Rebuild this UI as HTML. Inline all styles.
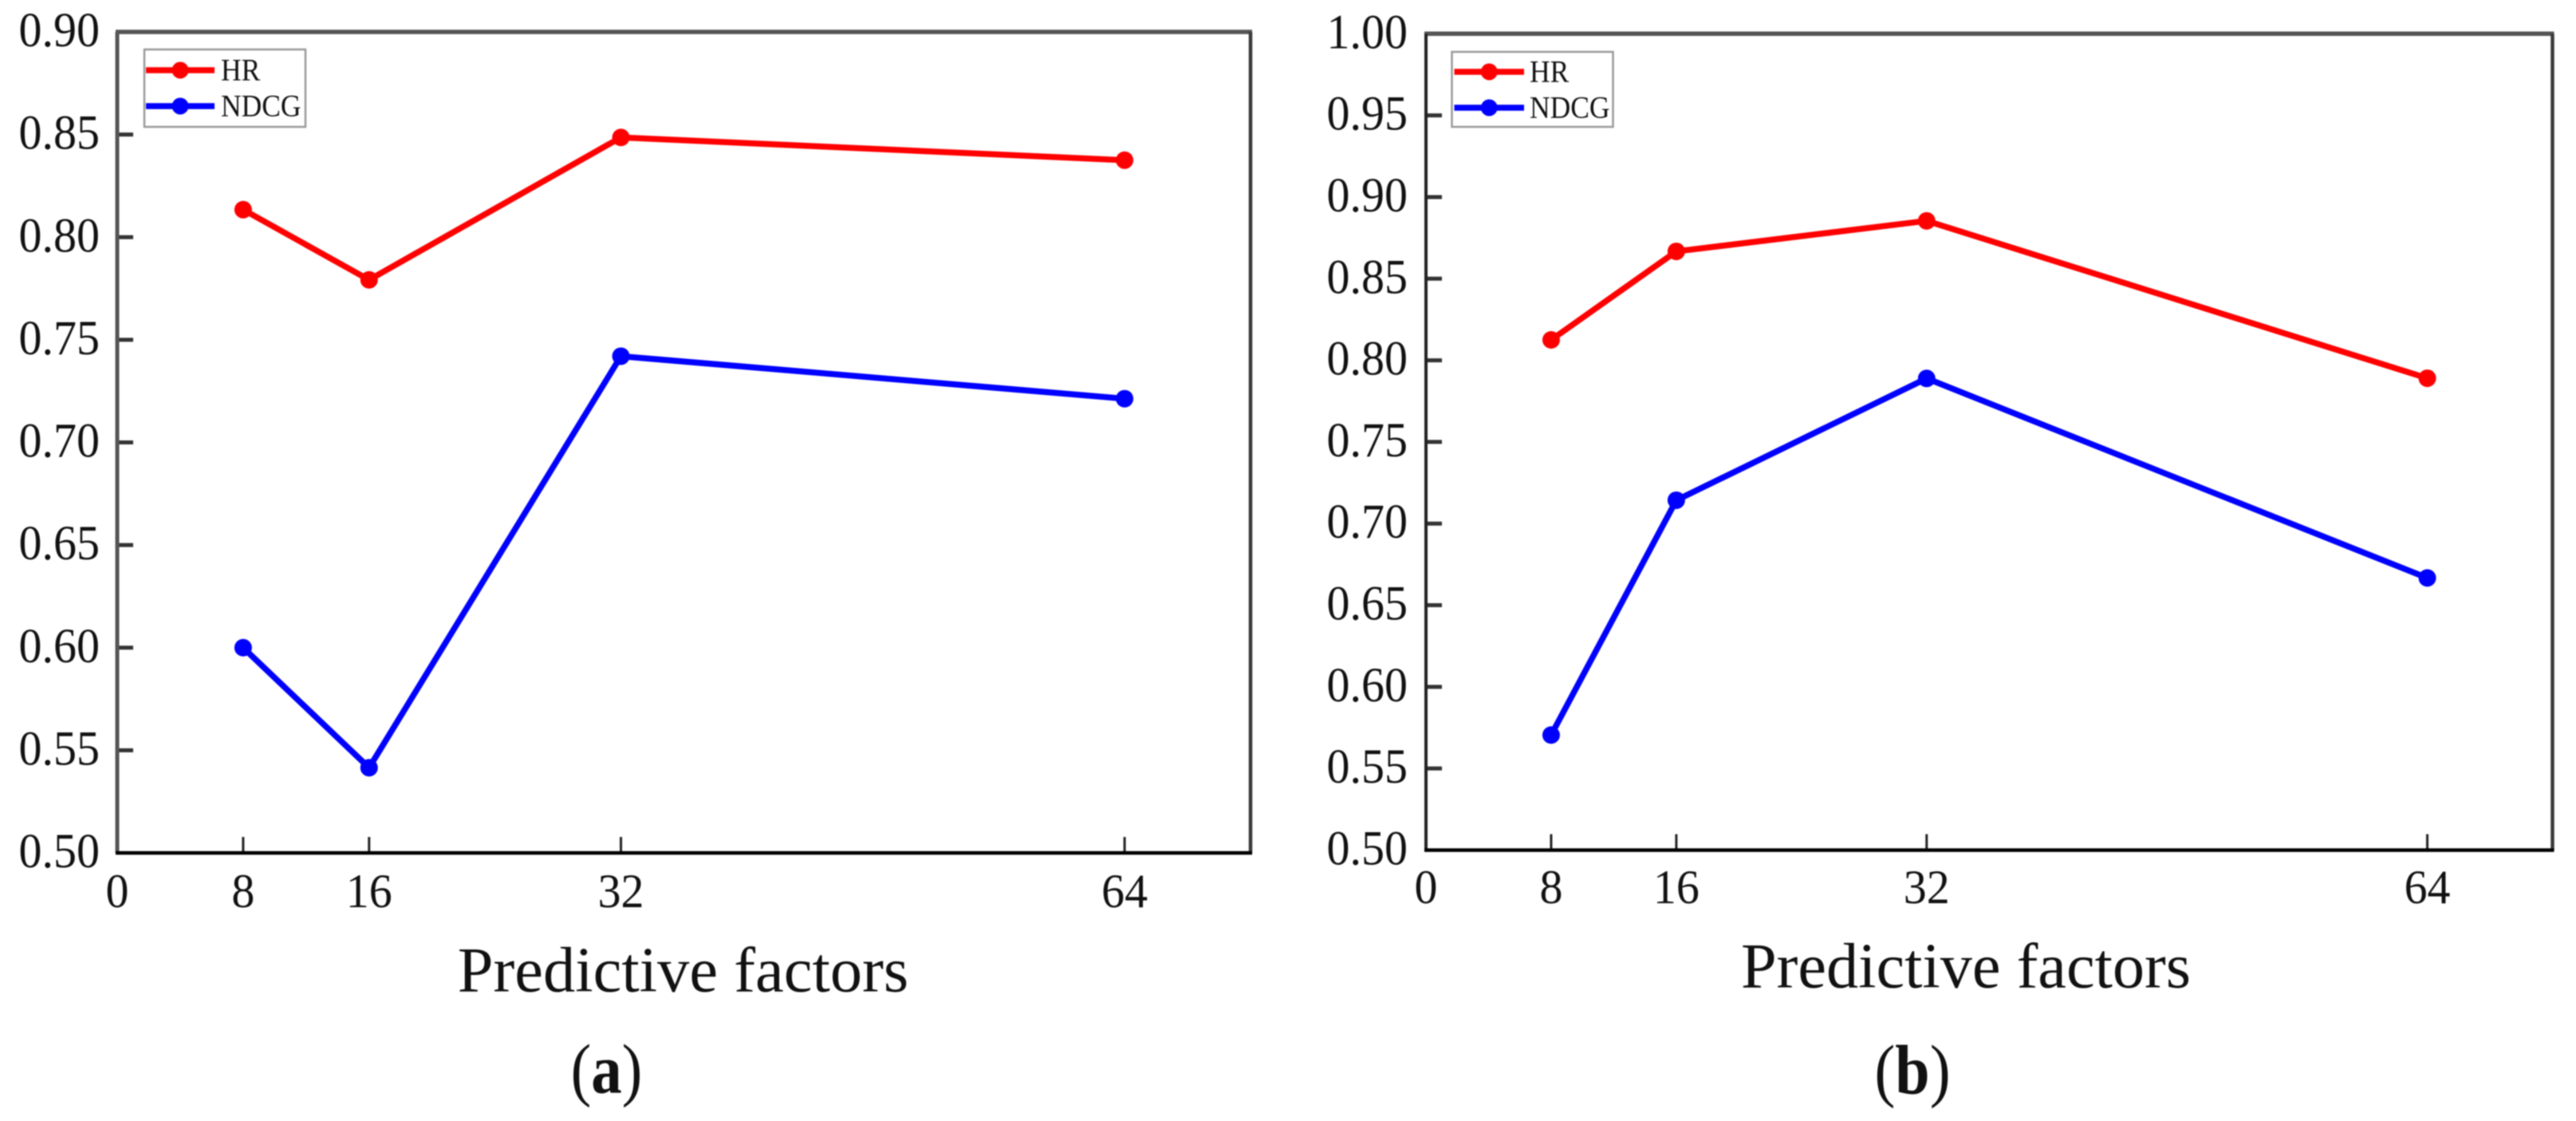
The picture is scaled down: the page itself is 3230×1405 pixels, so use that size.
<!DOCTYPE html>
<html lang="en">
<head>
<meta charset="utf-8">
<title>Predictive factors: HR and NDCG</title>
<style>
html,body{margin:0;padding:0;background:#fff;}
body{width:3230px;height:1405px;overflow:hidden;}
#figure{display:block;filter:blur(0.8px);}
text{font-family:"Liberation Serif","Times New Roman",serif;fill:#111;}
</style>
</head>
<body>
<svg id="figure" xmlns="http://www.w3.org/2000/svg" width="3230" height="1405" viewBox="0 0 3230 1405">
  <rect x="0" y="0" width="3230" height="1405" fill="#ffffff"/>
  <g id="panel-a"></g>
  <g id="panel-b"></g>
  <text x="856.5" y="1242.5" font-size="80.5" text-anchor="middle">Predictive factors</text>
  <text x="2465" y="1237.5" font-size="80.3" text-anchor="middle">Predictive factors</text>
  <text transform="translate(760.5 1369.5) scale(1 1.14)" font-size="77" text-anchor="middle">(<tspan font-weight="bold">a</tspan>)</text>
  <text transform="translate(2398 1370.5) scale(1 1.13)" font-size="78" text-anchor="middle">(<tspan font-weight="bold">b</tspan>)</text>
</svg>
<script>
// ---- chart data ----
const xTickValues = [0, 8, 16, 32, 64];
const xCategories = [8, 16, 32, 64];
const hrValuesA = [0.8134, 0.7792, 0.8486, 0.8375];
const ndcgValuesA = [0.6000, 0.5415, 0.7420, 0.7213];
const hrValuesB = [0.8125, 0.8667, 0.8854, 0.7890];
const ndcgValuesB = [0.5705, 0.7143, 0.7889, 0.6667];
const yTickLabelsA = ["0.50", "0.55", "0.60", "0.65", "0.70", "0.75", "0.80", "0.85", "0.90"];
const yTickLabelsB = ["0.50", "0.55", "0.60", "0.65", "0.70", "0.75", "0.80", "0.85", "0.90", "0.95", "1.00"];
const seriesNames = ["HR", "NDCG"];
const seriesColors = ["#ff0000", "#0000ff"];
const xDomainMax = 72;

const NS = "http://www.w3.org/2000/svg";
function mk(parent, tag, attrs) {
  const node = document.createElementNS(NS, tag);
  for (const key in attrs) node.setAttribute(key, attrs[key]);
  parent.appendChild(node);
  return node;
}

function drawPanel(cfg) {
  const root = document.getElementById(cfg.id);
  const yMin = parseFloat(cfg.yLabels[0]);
  const yMax = parseFloat(cfg.yLabels[cfg.yLabels.length - 1]);
  const xScale = v => cfg.left + (v / xDomainMax) * (cfg.right - cfg.left);
  const yScale = v => cfg.bottom - ((v - yMin) / (yMax - yMin)) * (cfg.bottom - cfg.top);

  // y ticks and labels
  cfg.yLabels.forEach(label => {
    const value = parseFloat(label);
    const y = yScale(value);
    if (value !== yMin && value !== yMax) {
      const tick = mk(root, "line", {x1: cfg.left, x2: cfg.left + 20, y1: y, y2: y, stroke: "#333", "stroke-width": 5});
      
      
    }
    const text = mk(root, "text", {transform: "translate(" + cfg.yLabelX + " " + (y + 18) + ") scale(1 1.05)", "font-size": 58, "text-anchor": "end"});
    text.textContent = label;
    
    
  });

  // x ticks and labels
  xTickValues.forEach(value => {
    const x = xScale(value);
    if (value !== 0) {
      const tick = mk(root, "line", {x1: x, x2: x, y1: cfg.bottom - 20, y2: cfg.bottom, stroke: "#222", "stroke-width": 3});
      
      
    }
    const text = mk(root, "text", {transform: "translate(" + x + " " + cfg.xLabelY + ") scale(1 1.04)", "font-size": 58, "text-anchor": "middle"});
    text.textContent = String(value);
    
    
  });

  // spines
  const spineTop = mk(root, "line", {x1: cfg.left - 2, x2: cfg.right + 2, y1: cfg.top, y2: cfg.top, stroke: "#555", "stroke-width": 5.5});
  
  
  const spineLeft = mk(root, "line", {x1: cfg.left, x2: cfg.left, y1: cfg.top, y2: cfg.bottom, stroke: cfg.leftColor, "stroke-width": cfg.leftWidth});
  
  
  const spineRight = mk(root, "line", {x1: cfg.right, x2: cfg.right, y1: cfg.top, y2: cfg.bottom, stroke: "#3a3a3a", "stroke-width": 4.5});
  
  
  const spineBottom = mk(root, "line", {x1: cfg.left - 2, x2: cfg.right + 2, y1: cfg.bottom, y2: cfg.bottom, stroke: "#000", "stroke-width": 4.5});
  
  

  // series
  cfg.series.forEach((values, s) => {
    const pts = values.map((v, i) => xScale(xCategories[i]) + "," + yScale(v)).join(" ");
    const line = mk(root, "polyline", {points: pts, fill: "none", stroke: seriesColors[s], "stroke-width": 7.5, "stroke-linejoin": "round"});
    
    
    values.forEach((v, i) => {
      const dot = mk(root, "circle", {cx: xScale(xCategories[i]), cy: yScale(v), r: 11, fill: seriesColors[s]});
      
      
    });
  });

  // legend
  const lg = cfg.legend;
  const box = mk(root, "rect", {x: lg.x, y: lg.y, width: lg.w, height: lg.h, fill: "#fff", stroke: "#999", "stroke-width": 2.5});
  
  
  seriesNames.forEach((name, s) => {
    const y = lg.rowY[s];
    const sample = mk(root, "line", {x1: lg.lineX1, x2: lg.lineX2, y1: y, y2: y, stroke: seriesColors[s], "stroke-width": 7.5});
    
    
    const marker = mk(root, "circle", {cx: (lg.lineX1 + lg.lineX2) / 2, cy: y, r: 10.5, fill: seriesColors[s]});
    
    
    const label = mk(root, "text", {transform: "translate(" + lg.textX + " " + (y + 12.5) + ") scale(1 1.1)", "font-size": 35.5});
    label.textContent = name;
    
    
  });
}

drawPanel({
  id: "panel-a", left: 147, right: 1568, top: 40, bottom: 1069,
  leftColor: "#555", leftWidth: 5,
  yLabelX: 125, xLabelY: 1137,
  yLabels: yTickLabelsA,
  series: [hrValuesA, ndcgValuesA],
  legend: {x: 181, y: 62, w: 202, h: 97, lineX1: 183, lineX2: 269, rowY: [88, 133], textX: 277}
});
drawPanel({
  id: "panel-b", left: 1788, right: 3200.5, top: 42.3, bottom: 1065.5,
  leftColor: "#222", leftWidth: 4,
  yLabelX: 1765, xLabelY: 1132,
  yLabels: yTickLabelsB,
  series: [hrValuesB, ndcgValuesB],
  legend: {x: 1820.5, y: 65, w: 202, h: 94, lineX1: 1823.5, lineX2: 1911, rowY: [90, 135], textX: 1918}
});
</script>
</body>
</html>
